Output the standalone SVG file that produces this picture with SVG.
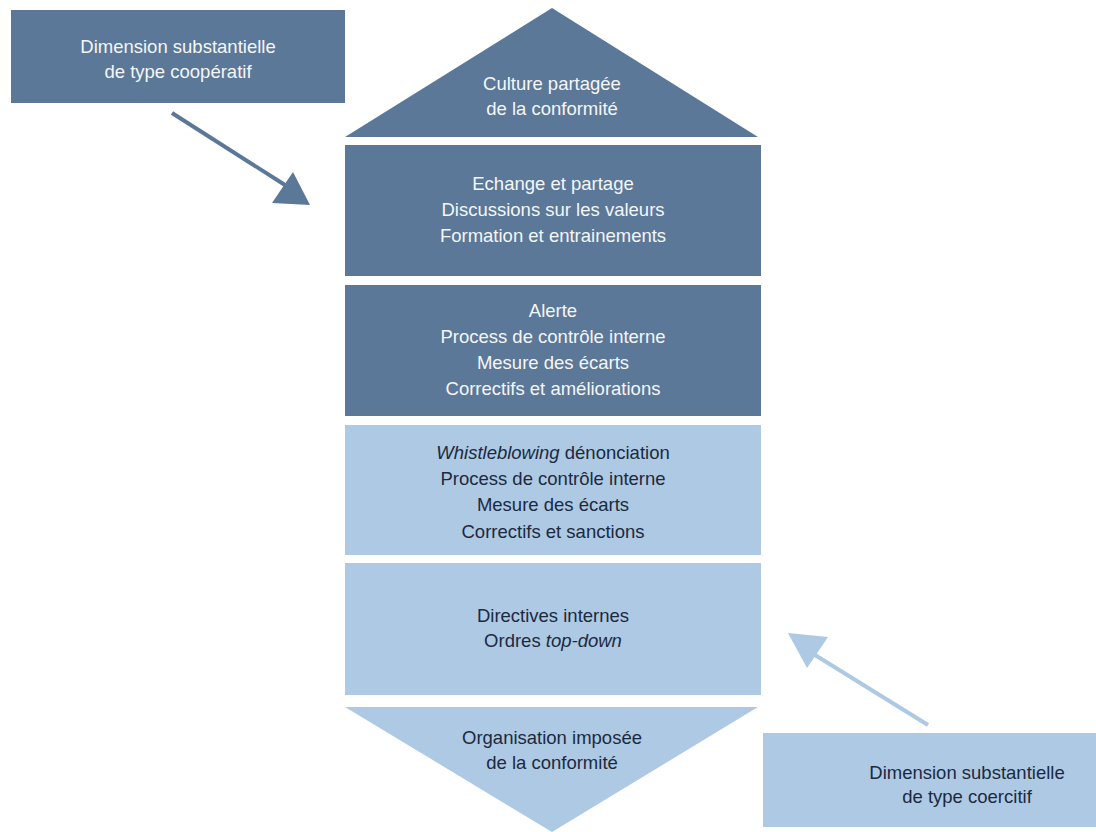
<svg xmlns="http://www.w3.org/2000/svg" width="1096" height="832" viewBox="0 0 1096 832">
<style>
.dk{fill:#5b7898}
.lt{fill:#adc9e4}
text{font-family:"Liberation Sans",Arial,sans-serif;font-size:18.5px;text-anchor:middle}
.tw{fill:#f4f6f8}
.tb{fill:#1c2a3e}
</style>
<rect width="1096" height="832" fill="#ffffff"/>
<g id="box-cooperatif">
<rect class="dk" x="11" y="10" width="334" height="93"/>
<text class="tw" x="178" y="53">Dimension substantielle</text>
<text class="tw" x="178" y="78">de type coopératif</text>
</g>
<g id="roof">
<polygon class="dk" points="552,8 758,137 345,137"/>
<text class="tw" x="552" y="90">Culture partagée</text>
<text class="tw" x="552" y="115">de la conformité</text>
</g>
<g id="level1">
<rect class="dk" x="345" y="145" width="416" height="131"/>
<text class="tw" x="553" y="190">Echange et partage</text>
<text class="tw" x="553" y="216">Discussions sur les valeurs</text>
<text class="tw" x="553" y="242">Formation et entrainements</text>
</g>
<g id="level2">
<rect class="dk" x="345" y="285" width="416" height="131"/>
<text class="tw" x="553" y="317">Alerte</text>
<text class="tw" x="553" y="343">Process de contrôle interne</text>
<text class="tw" x="553" y="369">Mesure des écarts</text>
<text class="tw" x="553" y="395">Correctifs et améliorations</text>
</g>
<g id="level3">
<rect class="lt" x="345" y="425" width="416" height="130"/>
<text class="tb" x="553" y="459"><tspan font-style="italic">Whistleblowing</tspan> dénonciation</text>
<text class="tb" x="553" y="485">Process de contrôle interne</text>
<text class="tb" x="553" y="511">Mesure des écarts</text>
<text class="tb" x="553" y="538">Correctifs et sanctions</text>
</g>
<g id="level4">
<rect class="lt" x="345" y="563" width="416" height="132"/>
<text class="tb" x="553" y="622">Directives internes</text>
<text class="tb" x="553" y="647">Ordres <tspan font-style="italic">top-down</tspan></text>
</g>
<g id="foundation">
<polygon class="lt" points="345,707 758,707 552,832"/>
<text class="tb" x="552" y="744">Organisation imposée</text>
<text class="tb" x="552" y="769">de la conformité</text>
</g>
<g id="box-coercitif">
<rect class="lt" x="763" y="733" width="333" height="94"/>
<text class="tb" x="967" y="779">Dimension substantielle</text>
<text class="tb" x="967" y="803">de type coercitif</text>
</g>
<g id="connectors">
<line x1="172" y1="113" x2="285" y2="185" stroke="#5b7898" stroke-width="4"/>
<polygon class="dk" points="310,205 272,203 293,172"/>
<line x1="928" y1="725" x2="815" y2="655" stroke="#adc9e4" stroke-width="4"/>
<polygon class="lt" points="788,633 828,637 807,668"/>
</g>
</svg>
